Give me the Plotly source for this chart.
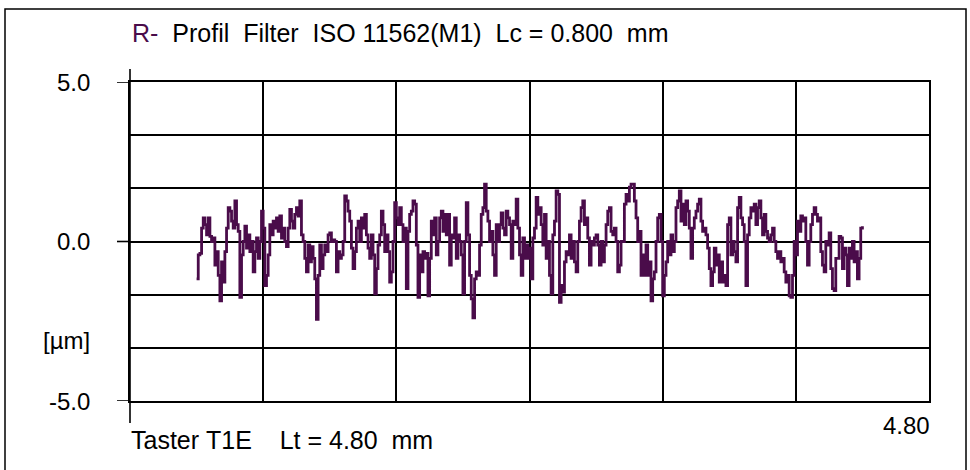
import plotly.graph_objects as go

# ---- data (roughness profile, values in µm, sampled every 0.01 mm from 0.40 mm) ----
X_START_MM = 0.40
STEP_MM = 0.01

profile_a = [
    -1.17, -0.42, -0.37, 0.42, 0.74, 0.53, 0.21, 0.74, 0.16, 0.00,
    0.11, -0.74, -0.32, -1.06, -1.86, -0.64, -1.27, -0.32, 0.42, 1.06,
    0.95, 0.64, 0.42, 1.27, 0.53, 0.32, -1.75, -0.42, 0.00, 0.48,
    -0.21, 0.21, -0.32, 0.00, -0.95, -0.32, 0.11, -0.53, 0.00, 0.95,
    0.42, -1.38, -1.06, -0.42, 0.53, 0.21, 0.64, 0.42, 0.74, 0.32,
    0.80, 0.11, 0.42, 0.00, -0.16, 0.42, 1.01, 0.64, 0.42, 0.85,
    1.06, 0.80, 1.27, 0.21, 0.00, -0.53, -0.95, -0.11, -0.64, -0.16,
    -0.53, -1.17, -2.44, -1.06, -0.11, -0.85, -0.42, -0.11, -0.32, 0.21,
    0.27, 0.00, 0.05, 0.00, -0.95, -0.32, -0.53, -0.42, 0.00, 1.43,
    1.27, 0.95, 0.64, -0.21, -0.85, -0.32, 0.42, 0.64, 0.00, 0.74,
    0.42, 0.85, 0.21, -0.21, -0.53, 0.21, -0.42, -1.64, -0.85, -0.11,
    0.21, 0.95, 0.53, -0.32, 0.21, -0.32, -1.27, -0.95, 0.00, 1.22,
    0.74, 0.53, 1.06, 0.53, 0.00, 0.42, -1.48, 0.32, 0.85, 0.95,
    1.27,
]

profile_b = [
    1.17, -0.11, -1.75, -0.42, -0.95, -0.32, -0.53, -0.37, -1.70, -0.53,
    0.64, 0.21, 0.74, -0.42, 0.00, 0.74, 0.95, 0.32, 0.85, 0.21,
    0.85, -0.74, 0.21, 0.11, 0.74, -0.53, 0.21, 0.00, -0.42, -1.64,
    0.00, 1.22, 0.21, -1.06, -1.80, -2.39, -1.17, -0.95, -1.06, -0.11,
    0.85, 1.06, 1.80, 0.95, 0.64, 0.00, 0.32, -0.42, -1.06, 0.53,
    0.00, 0.53, 0.90, 0.42, 0.21, 0.95, 0.74, 0.53, -0.53, 0.64,
    0.53, 1.33, 0.42, -0.42, -1.06, 0.11, -0.53, -0.11, -0.53, -0.21,
    -1.17, 0.11, 0.42, 1.38, 0.85, 1.06, 0.53, -0.11, 0.85, -0.53,
    0.00, -1.06, -1.64, 0.21, 0.64, 1.59, 1.48, -1.91, -1.38, -1.59,
    -0.64, -0.32, -0.42, 0.21, -0.53, 0.00, -0.64, -0.95, 0.00, 0.64,
    1.06, 1.27, 0.53, 0.74, 0.11, -0.74, 0.00, -0.11, 0.11, 0.21,
    -0.11, -0.74, 0.00, -0.64, -0.11, 0.53, 0.95, 1.06, 0.32, 0.21,
    0.42, 0.00, -0.95, -0.74, 0.00, 0.00, 1.17, 1.48, 1.27, 1.70,
    1.80, 1.80, 1.27, 0.74, 0.00,
]

profile_c = [
    0.32, -1.06, -0.42, -1.06, -0.11, -1.06, -0.64, -1.86, -1.17, -0.95,
    0.00, 0.74, 0.85, 0.00, -1.70, -1.06, -0.64, 0.00, -0.42, 0.21,
    -0.32, 0.00, 1.06, 1.27, 1.59, 0.64, 1.17, 0.53, 1.27, 0.95,
    0.42, -0.53, 0.42, 0.74, 0.95, 1.17, 1.33, 0.64, 0.32, 0.42,
    0.21, -0.21, -0.85, -1.38, -0.95, -0.21, -0.74, -0.42, -1.27, -0.64,
    -1.27, -1.06, -1.38, 0.53, 0.74, -0.42, 0.00, -0.32, -0.64, 1.06,
    1.38, 0.74, 0.53, 0.00, -1.38, 0.21, 0.74, 1.06, 0.95, 1.17,
    0.53, 1.06, 1.27, 0.74, 0.21, 0.85, 0.32, 0.11, 0.00, 0.21,
    0.42, 0.00, -0.32, -0.53, -0.32, -0.64, -0.53, -0.95, -1.27, -1.06,
    -1.70, -1.75, -1.06, 0.00, -0.42, 0.64, 0.32, 0.80, 0.64, 0.74,
    0.00, -0.74, 0.00, 0.53, 0.85, 1.06, 0.85, 0.64, 0.74, -0.32,
    -0.74, -0.95, 0.00, -0.11, 0.27, -0.85, -1.48, -1.54, -0.53, -0.53,
    0.16, 0.11, -0.85, -0.21, -0.42, -1.38, -0.21, -0.53, 0.00, -0.64,
    -0.32, -1.17, -0.53, 0.42, 0.48,
]

x_grid_mm = [0.0, 0.8, 1.6, 2.4, 3.2, 4.0, 4.8]
y_grid_um = [-5.0, -10 / 3, -5 / 3, 0.0, 5 / 3, 10 / 3, 5.0]
y_label_values = [5.0, 0.0, -5.0]
y_label_texts = ["5.0", "0.0", "-5.0"]
unit_label = "[µm]"
x_end_label = "4.80"
title_prefix = "R-"
title_rest = "  Profil  Filter  ISO 11562(M1)  Lc = 0.800  mm"
footer_text = "Taster T1E    Lt = 4.80  mm"

LINE_COLOR = "#4A0C4A"
FONT = "Liberation Sans, Arial, sans-serif"
FS_TEXT = 25
FS_NUM = 24

values = profile_a + profile_b + profile_c
xs = [round(X_START_MM + STEP_MM * i, 4) for i in range(len(values))]

# ---- layout geometry (pixels) ----
W, H = 970, 470
L, R, T, B = 130, 41, 82, 69
pw, ph = W - L - R, H - T - B


def px(xp):
    return (xp - L) / pw


def py(yp):
    return (H - B - yp) / ph


fig = go.Figure()
fig.add_trace(go.Scatter(
    x=xs, y=values, mode="lines",
    line=dict(color=LINE_COLOR, width=2.8, shape="hv"),
    hoverinfo="skip", showlegend=False,
))

axis_common = dict(
    showgrid=True, gridcolor="black", gridwidth=1.6,
    zeroline=False, showticklabels=False, ticks="",
    showline=True, linecolor="black", linewidth=1.6, mirror=True,
    fixedrange=True,
)
fig.update_xaxes(range=[0, 4.8], tickmode="array", tickvals=x_grid_mm, **axis_common)
fig.update_yaxes(range=[-5, 5], tickmode="array", tickvals=y_grid_um, **axis_common)

shapes = []
# outer frame
shapes.append(dict(type="rect", xref="paper", yref="paper",
                   x0=px(5), x1=px(966), y0=py(485), y1=py(9),
                   line=dict(color="black", width=1.5), fillcolor="rgba(0,0,0,0)"))
# extended left axis line
shapes.append(dict(type="line", xref="paper", yref="paper",
                   x0=0, x1=0, y0=py(423), y1=py(69),
                   line=dict(color="black", width=1.6)))
# tick marks on the left axis
for v in y_label_values:
    shapes.append(dict(type="line", xref="paper", yref="y",
                       x0=px(117), x1=0, y0=v, y1=v,
                       line=dict(color="black", width=1.6)))

annotations = []
for v, t in zip(y_label_values, y_label_texts):
    annotations.append(dict(text=t, xref="paper", yref="y", x=px(92), y=v,
                            xanchor="right", yanchor="middle", showarrow=False,
                            font=dict(family=FONT, size=FS_NUM, color="black")))
annotations.append(dict(text=unit_label, xref="paper", yref="paper", x=px(92), y=py(340),
                        xanchor="right", yanchor="middle", showarrow=False,
                        font=dict(family=FONT, size=FS_NUM, color="black")))
annotations.append(dict(text=x_end_label, xref="paper", yref="paper", x=px(932), y=py(425),
                        xanchor="right", yanchor="middle", showarrow=False,
                        font=dict(family=FONT, size=FS_NUM, color="black")))
annotations.append(dict(
    text=f"<span style='color:{LINE_COLOR}'>{title_prefix}</span>" + title_rest.replace(" ", "\u00a0"),
    xref="paper", yref="paper", x=px(130), y=py(33),
    xanchor="left", yanchor="middle", showarrow=False,
    font=dict(family=FONT, size=FS_TEXT, color="black")))
annotations.append(dict(text=footer_text.replace(" ", "\u00a0"), xref="paper", yref="paper",
                        x=px(129), y=py(440), xanchor="left", yanchor="middle", showarrow=False,
                        font=dict(family=FONT, size=FS_TEXT, color="black")))

fig.update_layout(
    width=W, height=H, autosize=False,
    margin=dict(l=L, r=R, t=T, b=B, pad=0),
    paper_bgcolor="white", plot_bgcolor="white",
    shapes=shapes, annotations=annotations,
    showlegend=False,
)

fig.write_html(
    "out.html",
    config={"displayModeBar": False},
    post_script="document.body.style.margin='0';document.body.style.overflow='hidden';",
)
